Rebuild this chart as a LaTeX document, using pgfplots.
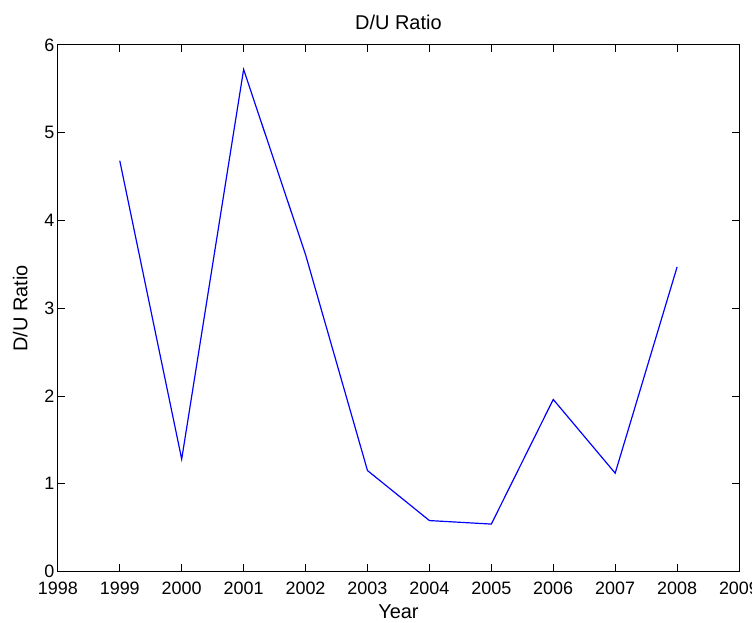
\documentclass[border=0pt]{standalone}
\usepackage{pgfplots}
\pgfplotsset{compat=1.18}
\usepackage{fontspec}
\setmainfont{Liberation Sans}
\usetikzlibrary{calc}
\begin{document}
\begin{tikzpicture}
\begin{axis}[
  name=ax,
  scale only axis,
  width=683pt, height=528pt,
  xmin=1998, xmax=2009, ymin=0, ymax=6,
  xtick={1998,...,2009}, ytick={0,1,...,6},
  /pgf/number format/set thousands separator={},
  /pgf/number format/assume math mode=true,
  font=\fontsize{20}{24}\selectfont,
  tick label style={font=\fontsize{18}{21}\selectfont},
  tick align=inside,
  major tick length=7pt,
  tick style={black, line width=0.8pt},
  axis line style={black, line width=0.9pt},
  title={D/U Ratio},
  title style={yshift=6pt},
  xlabel={Year}, ylabel={D/U Ratio},
  xlabel style={yshift=-3pt},
  ylabel style={yshift=10pt},
  xticklabel style={yshift=-7pt},
  yticklabel style={xshift=0pt},
]
\addplot[blue, line width=1.2pt, mark=none] coordinates {
(1999,4.68) (2000,1.28) (2001,5.72) (2002,3.61) (2003,1.15)
(2004,0.58) (2005,0.54) (2006,1.96) (2007,1.12) (2008,3.47)
};
\end{axis}
\pgfresetboundingbox
\path ($(ax.south west)+(-58pt,-51pt)$) rectangle ($(ax.north east)+(13pt,45pt)$);
\end{tikzpicture}
\end{document}
